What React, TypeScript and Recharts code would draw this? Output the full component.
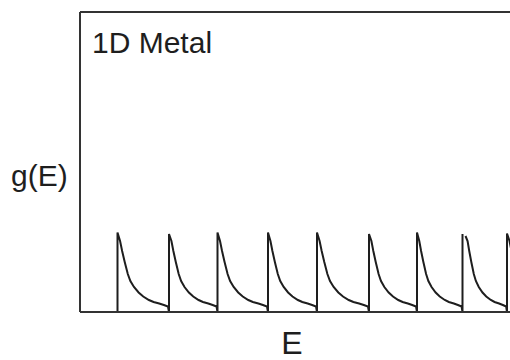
import React from 'react';
import { LineChart, Line, XAxis, YAxis, ReferenceLine, Label } from 'recharts';

// band edges along E, and g(E) at the top of each edge
const edges = [37.5, 89, 137.5, 188, 237, 289, 337, 382.5, 427];
const peaks = [79.5, 78, 79.5, 79.5, 79.5, 78, 79.5, 78, 78.5];
// where each decaying branch restarts (the 8th one is slightly detached)
const onsets = [37.5, 89, 137.5, 188, 237, 289, 337, 385.5, 427];
const onsetValues = [79.5, 78, 79.5, 79.5, 79.5, 78, 79.5, 76, 78.5];

// shape of the 1/sqrt tail: fraction of the way to the next edge, and g(E)
const tailFractions = [0.05, 0.09, 0.14, 0.2, 0.25, 0.32, 0.41, 0.5, 0.61, 0.7, 0.81, 0.9, 0.98];
const tailValues = [71, 61, 50, 38, 31, 25, 19.5, 15.5, 12, 10, 8.5, 7, 5.5];

const lastGap = 50;

type Pt = { E: number; g: number | null };

const data: Pt[] = [];
edges.forEach((e, i) => {
  const next = i + 1 < edges.length ? edges[i + 1] : e + lastGap;
  data.push({ E: e, g: 0 }, { E: e, g: peaks[i] });
  if (onsets[i] !== e) {
    data.push({ E: (e + onsets[i]) / 2, g: null });
    data.push({ E: onsets[i], g: onsetValues[i] });
  }
  const span = next - onsets[i];
  tailFractions.forEach((f, k) => data.push({ E: onsets[i] + f * span, g: tailValues[k] }));
});

const FONT = '"Liberation Sans", Arial, sans-serif';
const INK = '#1e1e1e';
const FRAME = '#333';

export default function App() {
  return (
    <div style={{ position: 'absolute', left: 0, top: 0, width: 510, height: 360, overflow: 'hidden', background: '#fff' }}>
      <LineChart width={560} height={360} data={data} margin={{ top: 12, right: 0, bottom: 0, left: 0 }}>
        <XAxis
          dataKey="E"
          type="number"
          domain={[0, 480]}
          allowDataOverflow
          height={48}
          tick={false}
          tickLine={false}
          axisLine={{ stroke: FRAME, strokeWidth: 2 }}
        >
          <Label
            content={() => (
              <text x={292} y={354} textAnchor="middle" fontFamily={FONT} fontSize={32} fill={INK}>
                E
              </text>
            )}
          />
        </XAxis>
        <YAxis
          type="number"
          domain={[0, 300]}
          allowDataOverflow
          width={80}
          tick={false}
          tickLine={false}
          axisLine={{ stroke: FRAME, strokeWidth: 2 }}
        >
          <Label
            content={() => (
              <text x={11} y={186} fontFamily={FONT} fontSize={30} fill={INK}>
                g(E)
              </text>
            )}
          />
        </YAxis>
        <ReferenceLine y={300} stroke={FRAME} strokeWidth={2}>
          <Label
            content={() => (
              <text x={92} y={53} fontFamily={FONT} fontSize={30} fill={INK}>
                1D Metal
              </text>
            )}
          />
        </ReferenceLine>
        <Line
          dataKey="g"
          type="linear"
          stroke={INK}
          strokeWidth={2}
          dot={false}
          connectNulls={false}
          isAnimationActive={false}
        />
      </LineChart>
    </div>
  );
}
